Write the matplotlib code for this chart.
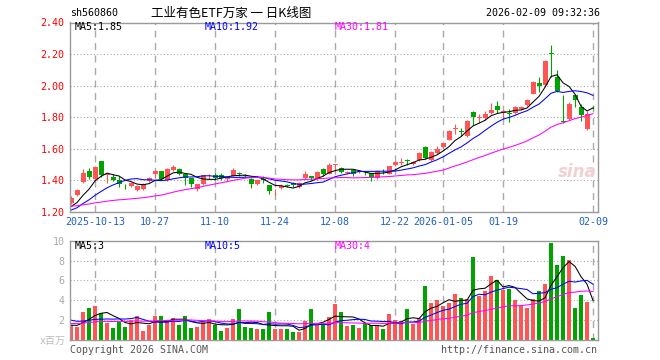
import numpy as np
import matplotlib
matplotlib.use("Agg")
import matplotlib.pyplot as plt

plt.rcParams['font.family'] = ['DejaVu Sans Mono', 'Noto Sans CJK SC']

# precios diarios (apertura, cierre, máximo, mínimo)
open_ = [1.26, 1.305, 1.39, 1.457, 1.406, 1.52, 1.432, 1.421, 1.40, 1.36,
         1.364, 1.337, 1.347, 1.394, 1.438, 1.457, 1.40, 1.464, 1.47, 1.438,
         1.415, 1.343, 1.375, 1.425, 1.436, 1.432, 1.411, 1.427, 1.445, 1.436,
         1.411, 1.375, 1.41, 1.368, 1.325, 1.355, 1.37, 1.383, 1.357, 1.417,
         1.425, 1.411, 1.47, 1.442, 1.50, 1.48, 1.45, 1.468, 1.455, 1.455,
         1.446, 1.415, 1.455, 1.442, 1.495, 1.512, 1.53, 1.506, 1.527, 1.611,
         1.527, 1.572, 1.611, 1.658, 1.728, 1.713, 1.68, 1.834, 1.795, 1.798,
         1.827, 1.87, 1.83, 1.825, 1.827, 1.852, 1.876, 1.95, 2.015, 2.006,
         2.21, 2.057, 1.775, 1.792, 1.939, 1.866, 1.728, 1.866]
close = [1.29, 1.34, 1.45, 1.421, 1.483, 1.435, 1.442, 1.40, 1.38, 1.357,
         1.383, 1.364, 1.379, 1.415, 1.459, 1.406, 1.474, 1.484, 1.442, 1.415,
         1.379, 1.379, 1.432, 1.428, 1.415, 1.415, 1.421, 1.468, 1.44, 1.425,
         1.379, 1.40, 1.405, 1.332, 1.328, 1.365, 1.366, 1.368, 1.383, 1.442,
         1.413, 1.453, 1.442, 1.50, 1.502, 1.455, 1.455, 1.442, 1.458, 1.452,
         1.415, 1.457, 1.452, 1.489, 1.516, 1.515, 1.525, 1.516, 1.573, 1.54,
         1.58, 1.60, 1.637, 1.713, 1.732, 1.705, 1.775, 1.80, 1.80, 1.823,
         1.849, 1.845, 1.838, 1.82, 1.866, 1.862, 1.908, 2.025, 2.0, 2.155,
         2.20, 1.966, 1.768, 1.887, 1.908, 1.815, 1.823, 1.862]
high = [1.30, 1.345, 1.47, 1.478, 1.49, 1.525, 1.45, 1.438, 1.425, 1.375,
        1.39, 1.37, 1.385, 1.42, 1.468, 1.46, 1.48, 1.50, 1.48, 1.44,
        1.418, 1.38, 1.435, 1.442, 1.449, 1.445, 1.43, 1.478, 1.455, 1.44,
        1.415, 1.405, 1.425, 1.37, 1.347, 1.375, 1.375, 1.39, 1.39, 1.459,
        1.43, 1.46, 1.478, 1.51, 1.502, 1.485, 1.46, 1.474, 1.465, 1.46,
        1.45, 1.465, 1.474, 1.49, 1.52, 1.544, 1.538, 1.52, 1.58, 1.615,
        1.585, 1.62, 1.645, 1.72, 1.76, 1.735, 1.78, 1.84, 1.823, 1.84,
        1.891, 1.904, 1.845, 1.855, 1.87, 1.87, 1.915, 2.03, 2.057, 2.16,
        2.256, 2.10, 1.939, 1.897, 1.94, 1.887, 1.84, 1.869]
low = [1.25, 1.30, 1.385, 1.406, 1.40, 1.42, 1.385, 1.395, 1.36, 1.347,
       1.36, 1.335, 1.341, 1.39, 1.413, 1.40, 1.395, 1.46, 1.432, 1.368,
       1.357, 1.332, 1.37, 1.411, 1.40, 1.40, 1.395, 1.425, 1.43, 1.42,
       1.351, 1.37, 1.383, 1.315, 1.305, 1.345, 1.36, 1.36, 1.355, 1.41,
       1.405, 1.405, 1.425, 1.44, 1.453, 1.45, 1.44, 1.427, 1.45, 1.435,
       1.396, 1.41, 1.44, 1.44, 1.492, 1.495, 1.495, 1.50, 1.52, 1.535,
       1.52, 1.565, 1.605, 1.655, 1.696, 1.68, 1.675, 1.75, 1.765, 1.78,
       1.82, 1.827, 1.79, 1.77, 1.82, 1.845, 1.87, 1.945, 1.957, 2.0,
       2.057, 1.96, 1.766, 1.78, 1.866, 1.775, 1.72, 1.85]

# volumen (millones)
volume = [1.5, 1.33, 2.83, 3.23, 3.4, 2.67, 1.73, 1.23, 1.83, 1.33,
          2.0, 2.4, 0.93, 1.5, 2.4, 2.4, 2.0, 2.17, 1.5, 2.4,
          1.23, 1.33, 1.83, 2.1, 1.5, 0.93, 1.23, 2.1, 3.1, 1.33,
          1.23, 1.07, 1.07, 2.83, 1.07, 1.13, 1.07, 0.83, 0.83, 1.93,
          3.1, 1.5, 1.57, 2.27, 3.6, 2.83, 1.4, 1.5, 1.23, 1.67,
          1.5, 1.43, 1.1, 2.6, 2.0, 1.9, 3.1, 1.6, 2.17, 5.43,
          3.73, 4.0, 3.4, 3.73, 4.6, 4.23, 4.1, 8.4, 4.43, 4.9,
          6.4, 6.0, 5.0, 5.1, 4.0, 3.4, 3.23, 4.1, 4.9, 5.6,
          9.73, 7.6, 8.5, 8.07, 3.23, 4.5, 3.83, 0.23]

# cierres y volúmenes anteriores a la ventana (para las medias móviles)
pre_close = [1.27, 1.28, 1.26, 1.27, 1.28, 1.27, 1.26, 1.27, 1.28, 1.27,
             1.26, 1.27, 1.26, 1.27, 1.27, 1.20, 1.19, 1.18, 1.19, 1.20,
             1.19, 1.18, 1.19, 1.20, 1.19, 1.21, 1.22, 1.23, 1.22]
pre_vol = [1.5, 1.4, 1.6, 1.5, 1.5, 1.4, 1.6, 1.5, 1.5, 1.5,
           1.4, 1.6, 1.5, 1.5, 1.5, 1.4, 1.6, 1.5, 1.5, 1.5,
           2.5, 2.6, 2.4, 2.5, 2.5, 1.5, 1.4, 1.6, 1.5]

dates = ['2025-10-13', '10-27', '11-10', '11-24', '12-08', '12-22',
         '2026-01-05', '01-19', '02-09']
date_idx = [4, 14, 24, 34, 44, 54, 62, 72, 87]
price_ticks = [1.20, 1.40, 1.60, 1.80, 2.00, 2.20, 2.40]
vol_ticks = [2, 4, 6, 8, 10]

ma_text = ['MA5:1.85', 'MA10:1.92', 'MA30:1.81']
vma_text = ['MA5:3', 'MA10:5', 'MA30:4']

RED = '#ff5555'
GREEN = '#00a300'
GRIS = '#9a9a9a'

n = len(close)
x = np.arange(n)


def media(serie, previa, k):
    full = np.array(previa + serie)
    m = np.convolve(full, np.ones(k) / k, mode='valid')
    return m[-n:]


fig = plt.figure(figsize=(6.6, 3.6), dpi=100)
ax = fig.add_axes([70 / 660, 1 - 212 / 360, 528 / 660, 189.5 / 360])
axv = fig.add_axes([70 / 660, 1 - 340 / 360, 528 / 660, 99.3 / 360])

o = np.array(open_)
c = np.array(close)
up = c >= o
cols = [RED if u else GREEN for u in up]

# velas
ax.vlines(x, low, high, colors=cols, linewidth=0.8)
body_h = np.maximum(np.abs(c - o), 0.003)
ax.bar(x, body_h, bottom=np.minimum(o, c), width=0.84, color=cols, linewidth=0)

ax.plot(x, media(close, pre_close, 5), color='black', lw=0.75)
ax.plot(x, media(close, pre_close, 10), color='#0000ff', lw=0.75)
ax.plot(x, media(close, pre_close, 30), color='#ff00ff', lw=0.75)

ax.set_xlim(-0.17, 87.83)
ax.set_ylim(1.20, 2.40)

# volumen
axv.bar(x, volume, width=0.8, color=cols, linewidth=0)
axv.plot(x, media(volume, pre_vol, 5), color='black', lw=0.75)
axv.plot(x, media(volume, pre_vol, 10), color='#0000ff', lw=0.75)
axv.plot(x, media(volume, pre_vol, 30), color='#ff00ff', lw=0.75)
axv.set_xlim(-0.17, 87.83)
axv.set_ylim(0, 10)

for a in (ax, axv):
    for s in a.spines.values():
        s.set_color(GRIS)
        s.set_linewidth(1)
    for d in date_idx:
        a.axvline(d, color='#aaaaaa', lw=1, ls=(0, (5, 4)), zorder=0)
    a.set_xticks([])
    a.tick_params(length=0)

for p in price_ticks[1:-1]:
    ax.axhline(p, color='#aaaaaa', lw=0.8, ls=(0, (1, 2)), zorder=0)
for v in vol_ticks[:-1]:
    axv.axhline(v, color='#aaaaaa', lw=0.8, ls=(0, (1, 2)), zorder=0)

ax.set_yticks(price_ticks)
ax.set_yticklabels(['%.2f' % p for p in price_ticks], color='red', fontsize=7.2)
axv.set_yticks(vol_ticks)
axv.set_yticklabels([str(v) for v in vol_ticks], color='#aaaaaa', fontsize=7.2)
ax.tick_params(axis='y', pad=4)
axv.tick_params(axis='y', pad=4)

for d, lab in zip(date_idx, dates):
    ax.text(d, -0.025, lab, transform=ax.get_xaxis_transform(), ha='center',
            va='top', fontsize=7.2, color='#2060c0')

# leyendas de medias
for xx, t, col in zip([75, 205, 335], ma_text, ['black', '#0000ff', '#ff00ff']):
    fig.text(xx / 660, 1 - 27 / 360, t, fontsize=7.2, color=col, va='center')
for xx, t, col in zip([75, 205, 335], vma_text, ['black', '#0000ff', '#ff00ff']):
    fig.text(xx / 660, 1 - 246 / 360, t, fontsize=7.2, color=col, va='center')

fig.text(70 / 660, 1 - 13 / 360, 'sh560860', fontsize=7.2, va='center')
fig.text(151 / 660, 1 - 13 / 360, '工业有色ETF万家 一 日K线图', fontsize=9,
         va='center', family=['Noto Sans CJK SC', 'DejaVu Sans'])
fig.text(600 / 660, 1 - 13 / 360, '2026-02-09 09:32:36', fontsize=7.2,
         va='center', ha='right')
fig.text(66 / 660, 1 - 341 / 360, 'x百万', fontsize=7.2, va='center', ha='right',
         color='#bbbbbb', family=['DejaVu Sans Mono', 'Noto Sans CJK SC'])
fig.text(70 / 660, 1 - 350 / 360, 'Copyright 2026 SINA.COM', fontsize=7.2,
         va='center', color='#555555')
fig.text(597 / 660, 1 - 350 / 360, 'http://finance.sina.com.cn', fontsize=7.2,
         va='center', ha='right', color='#555555')
fig.text(577 / 660, 1 - 172 / 360, 'sina', fontsize=12, style='italic',
         weight='bold', color='#f4d0d0', ha='center', va='center',
         family='DejaVu Sans')

fig.savefig('out.png', dpi=100)
